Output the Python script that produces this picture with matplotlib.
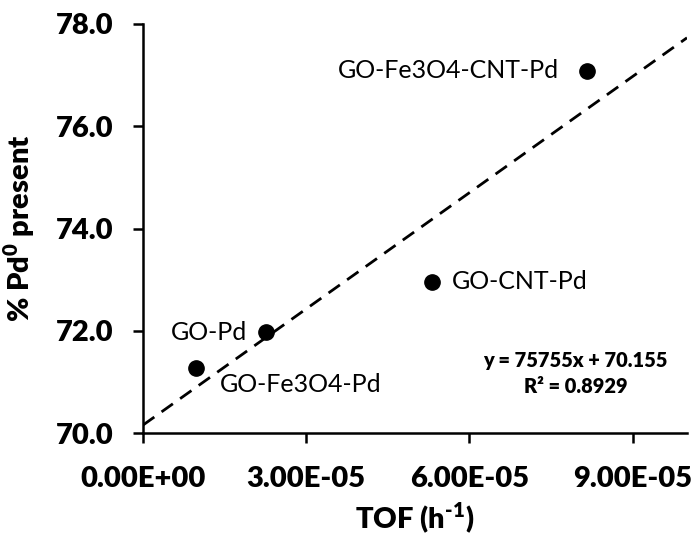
import matplotlib
matplotlib.use("Agg")
import matplotlib.pyplot as plt
import numpy as np

plt.rcParams['font.family'] = ['Lato', 'DejaVu Sans']
plt.rcParams['mathtext.fontset'] = 'custom'
plt.rcParams['mathtext.rm'] = 'Lato:heavy'
plt.rcParams['mathtext.bf'] = 'Lato:heavy'

labels = ["GO-Fe3O4-Pd", "GO-Pd", "GO-CNT-Pd", "GO-Fe3O4-CNT-Pd"]
tof = [0.97e-5, 2.27e-5, 5.32e-5, 8.16e-5]
pd0 = [71.28, 71.97, 72.96, 77.09]
slope = 75755
intercept = 70.155
r2 = 0.8929
xticks = [0.0, 3e-5, 6e-5, 9e-5]
xticklabels = ["0.00E+00", "3.00E-05", "6.00E-05", "9.00E-05"]
yticks = [70, 72, 74, 76, 78]

BOLD = 'heavy'

fig = plt.figure(figsize=(6.96, 5.38), dpi=100)
# axes: left spine x=143, right end x=687, top y=24, bottom y=433 (pixels)
ax = fig.add_axes([143 / 696, (538 - 433) / 538, (687 - 143) / 696, (433 - 24) / 538])

xl = np.array([0.0, 1e-4])
ax.plot(xl, slope * xl + intercept, color='black', lw=2, ls=(0, (5, 3.2)), zorder=2)
ax.plot(tof, pd0, 'o', color='black', ms=11, zorder=3)

offsets = {
    "GO-Fe3O4-Pd": ((17, -12), 'left'),
    "GO-Pd": ((-14, 0), 'right'),
    "GO-CNT-Pd": ((14, 0), 'left'),
    "GO-Fe3O4-CNT-Pd": ((-20, 0), 'right'),
}
for lab, x, y in zip(labels, tof, pd0):
    off, ha = offsets[lab]
    ax.annotate(lab, (x, y), xytext=off, textcoords='offset points',
                ha=ha, va='center', fontsize=18)

ax.text(0.795, 0.177, f"y = {slope}x + {intercept}", transform=ax.transAxes,
        ha='center', va='center', fontsize=14.4, fontweight=BOLD)
ax.text(0.795, 0.113, f"R² = {r2}", transform=ax.transAxes,
        ha='center', va='center', fontsize=14.4, fontweight=BOLD)

ax.set_xlim(0, 1e-4)
ax.set_ylim(70, 78)
ax.set_xticks(xticks)
ax.set_xticklabels(xticklabels)
ax.set_yticks(yticks)
ax.set_yticklabels([f"{v:.1f}" for v in yticks])
for lbl in ax.get_xticklabels() + ax.get_yticklabels():
    lbl.set_fontweight(BOLD)
    lbl.set_fontsize(21)

for s in ['top', 'right']:
    ax.spines[s].set_visible(False)
for s in ['left', 'bottom']:
    ax.spines[s].set_linewidth(1.8)
ax.tick_params(direction='out', length=7.5, width=1.8)
ax.tick_params(axis='y', pad=14)
ax.tick_params(axis='x', pad=16)

ax.set_xlabel(r"TOF (h$^{\text{-}1}$)", fontsize=21, fontweight=BOLD, labelpad=7)
ax.set_ylabel(r"% Pd$^{\mathbf{0}}$ present", fontsize=21, fontweight=BOLD, labelpad=13)

fig.savefig("out.png", dpi=100)
